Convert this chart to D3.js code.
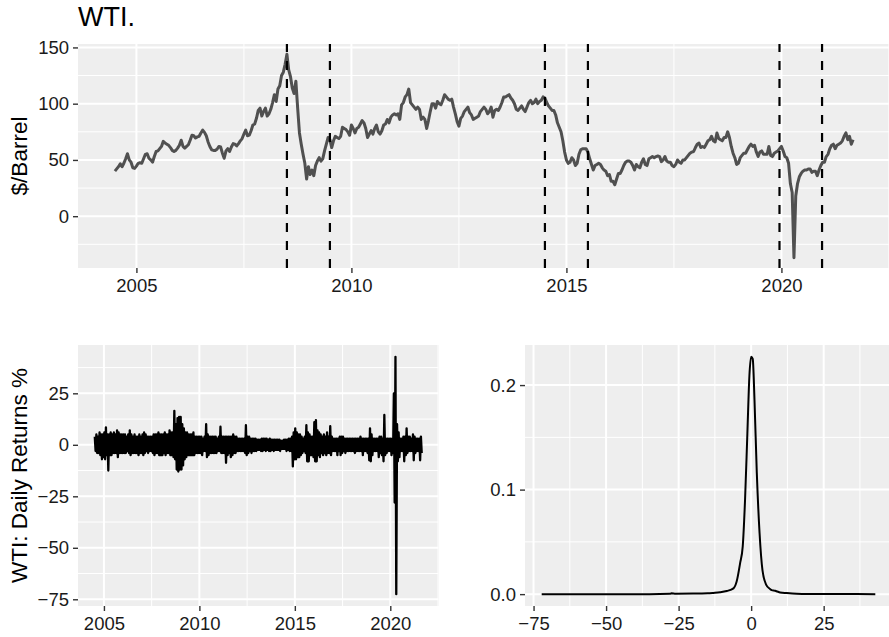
<!DOCTYPE html>
<html><head><meta charset="utf-8">
<script src="https://cdn.jsdelivr.net/npm/d3@7"></script>
<style>
body{margin:0;background:#fff}
svg{display:block}
text{font-family:"Liberation Sans",Arial,Helvetica,sans-serif}
</style>
</head><body>
<svg id="c" width="889" height="637"></svg>
<script>
// ---------------- DATA ----------------
// WTI spot price, $/barrel, semi-monthly readings (1st and 16th of each month)
const wti2004 = [40, 42, 44, 46.5, 44, 47, 51, 55.5, 50, 48, 43, 42.5]; // Jul-Dec
const wti2005 = [44.5, 47, 47.5, 47, 51, 55, 55.5, 51.5, 50, 48, 53, 57.5, 58, 60, 62, 66.5, 65, 64, 63, 61, 58.5, 57.5, 58.5, 60.5];
const wti2006 = [63, 67.5, 62, 60.5, 62, 63.5, 67.5, 72, 71.5, 69.5, 70.5, 71, 74, 76.5, 74.5, 71.5, 66, 62, 59, 58.5, 58.5, 59.5, 62, 61.5];
const wti2007 = [56, 51.5, 58, 60, 57.5, 61.5, 64.5, 64, 62.5, 64.5, 67, 69, 73, 76.5, 71.5, 72, 76, 81, 82, 87, 94, 96, 89, 93];
const wti2008 = [96, 89, 91, 95, 101, 108, 102, 113, 116, 125, 128, 135, 144, 130, 124, 114, 109, 120, 96, 74, 64, 55, 47, 33];
const wti2009 = [44, 37, 41, 36, 45, 49, 52, 49, 51, 58, 64, 70, 68, 61, 67, 71, 70, 69, 71, 79, 78, 77, 75, 72];
const wti2010 = [81, 78, 74, 78, 79, 82, 85, 83, 78, 70, 73, 76, 73, 78, 81, 75, 73, 76, 81, 82, 86, 83, 88, 90];
const wti2011 = [91, 90, 91, 86, 99, 101, 106, 108, 113, 101, 99, 97, 95, 97, 95, 86, 88, 86, 78, 85, 93, 100, 100, 96];
const wti2012 = [102, 100, 99, 103, 108, 106, 104, 103, 104, 97, 91, 84, 80, 87, 89, 93, 95, 97, 92, 90, 86, 87, 88, 89];
const wti2013 = [93, 95, 97, 95, 91, 93, 97, 88, 94, 95, 94, 97, 101, 106, 106, 107, 108, 105, 103, 100, 95, 94, 96, 98];
const wti2014 = [95, 93, 97, 101, 103, 100, 101, 104, 100, 102, 103, 106, 105, 101, 98, 96, 94, 94, 90, 83, 79, 75, 67, 57];
const wti2015 = [50, 47, 48, 52, 50, 45, 47, 55, 59, 60, 60, 60, 57, 51, 46, 41, 45, 46, 47, 46, 43, 41, 40, 36];
const wti2016 = [37, 31, 31, 28, 33, 38, 38, 41, 45, 48, 49, 49, 48, 45, 41, 46, 44, 43, 48, 51, 46, 45, 51, 52];
const wti2017 = [53, 52, 53, 53.5, 53, 48.5, 50, 53, 49, 48, 48, 45, 44, 46, 50, 48, 47, 50, 50, 52, 54, 56, 57, 57.5];
const wti2018 = [61, 64, 65, 61, 62, 61, 64, 67, 68, 71, 67, 66, 74, 69, 68, 67, 70, 70, 75, 70, 62, 56, 52, 46];
const wti2019 = [47, 52, 54, 56, 56, 59, 62, 64, 62, 63, 57, 53, 57, 58, 55, 55, 55, 62, 54, 53, 56, 57, 58, 60];
const wti2020 = [62, 58, 53, 52, 47, 29, 21, -37, 18, 29, 35, 38, 40, 41, 41, 42, 42, 39, 40, 40, 36, 41, 45, 48];
const wti2021 = [48, 53, 55, 60, 63, 64, 60, 63, 64, 65, 67, 71, 74, 68, 71, 64, 68]; // Jan-Sep 1
const priceYears = [2004, 2005, 2006, 2007, 2008, 2009, 2010, 2011, 2012, 2013, 2014, 2015, 2016, 2017, 2018, 2019, 2020, 2021];
const priceSeries = [wti2004, wti2005, wti2006, wti2007, wti2008, wti2009, wti2010, wti2011, wti2012, wti2013, wti2014, wti2015, wti2016, wti2017, wti2018, wti2019, wti2020, wti2021];

// Vertical event markers (decimal years)
const eventDates = [2008.5, 2009.5, 2014.5, 2015.5, 2019.955, 2020.945];

// Daily returns %: monthly envelope (highest / lowest daily return), from Jul 2004
const retStartYear = 2004.5;
const retHigh = [
  4, 5, 4, 6, 5, 5,                                  // 2004 H2
  6, 8.5, 5, 5, 6, 5, 6, 5, 7, 6, 5, 5,              // 2005
  5, 5, 4, 5, 7, 5, 4, 5, 4, 4, 5, 4,                // 2006
  5, 6, 5, 4, 4, 4, 4, 5, 5, 5, 6, 5,                // 2007
  5, 5, 6, 5, 5, 7, 6, 6, 16.5, 10, 13, 13.5,        // 2008
  13.5, 10, 8, 6, 6, 5, 5, 5, 6, 4, 4, 4,            // 2009
  4, 4, 3, 4, 10, 5, 4, 4, 4, 4, 4, 3,               // 2010
  4, 8.8, 4, 4, 4, 4, 4, 4, 4, 5, 4, 4,              // 2011
  3, 3, 3, 3, 3, 9.5, 4, 4, 3, 3, 3, 3,              // 2012
  2.5, 2.5, 2.5, 3, 3, 3, 3, 2.5, 3, 2.5, 2.5, 2.5,  // 2013
  2.5, 2.5, 2.5, 2, 2, 2.5, 2.5, 2.5, 3, 3, 4, 6,    // 2014
  8, 6, 5, 5, 4, 3, 4, 9.5, 6, 5, 4, 4,              // 2015
  11, 12, 7, 6, 5, 4, 5, 4, 6, 4, 9, 4,              // 2016
  3, 3, 3, 3, 4, 4, 4, 3, 3, 3, 3, 3,                // 2017
  3, 3, 3, 3, 3, 4, 3, 3, 3, 3, 3, 8,                // 2018
  5, 3, 3, 3, 3, 4, 4, 3, 14.5, 3, 3, 3,             // 2019
  3, 3, 25, 42.7, 10, 6, 3, 3, 4, 4, 8, 4,           // 2020
  4, 3, 5, 4, 3, 3, 3, 4                             // 2021
];
const retLow = [
  -3, -4, -4, -5, -7, -6,
  -7, -5, -12.5, -5, -5, -4, -4, -4, -6, -4, -4, -4,
  -4, -4, -3, -4, -5, -4, -4, -4, -4, -5, -4, -4,
  -5, -4, -3, -4, -3, -3, -4, -5, -4, -4, -5, -5,
  -5, -4, -5, -4, -4, -5, -5, -6, -7, -12, -13, -12,
  -12, -10, -7, -6, -5, -5, -5, -5, -5, -4, -4, -4,
  -4, -5, -3, -3, -6, -5, -4, -4, -4, -4, -4, -3,
  -3, -4, -4, -4, -8.7, -5, -4, -6, -5, -4, -4, -3,
  -3, -3, -3, -3, -4, -5, -4, -3, -4, -3, -3, -3,
  -2.5, -2.5, -3, -3, -2.5, -3, -2.5, -3, -3, -2.5, -3, -2.5,
  -2.5, -2.5, -3, -2, -2, -2, -3, -2.5, -3, -3, -10.5, -7,
  -7, -6, -6, -5, -4, -3, -4, -8, -8, -5, -5, -6,
  -8, -8, -5, -6, -4, -5, -4, -5, -4, -4, -5, -3,
  -3, -3, -5, -3, -5, -4, -3, -4, -3, -3, -3, -3,
  -3, -4, -3, -3, -3, -3, -5, -3, -3, -4, -7.5, -8,
  -5, -3, -3, -3, -6, -4, -5, -8, -5, -4, -3, -3,
  -5, -4, -28, -72.5, -8, -6, -3, -3, -8, -5, -4, -3,
  -3, -3, -7.5, -4, -3, -3, -7.5, -4
];

// Kernel density of daily returns
const densX = [-72.2, -60, -45, -35, -28, -27.5, -26, -20, -15, -13, -10.7, -8.4, -6.1, -5, -3.8, -2.9, -2.1, -1.3, -0.6, 0, 0.55, 1.15, 1.95, 2.9, 3.9, 5.2, 6.5, 7.1, 8.3, 9.0, 10, 12.3, 15.7, 20, 30, 42.8];
const densY = [0, 0, 0, 0, 0.0003, 0.0008, 0.0004, 0.0005, 0.0008, 0.0012, 0.0018, 0.003, 0.0055, 0.012, 0.0297, 0.0457, 0.0904, 0.154, 0.209, 0.227, 0.225, 0.186, 0.116, 0.0585, 0.023, 0.0089, 0.005, 0.0038, 0.0032, 0.0025, 0.0016, 0.001, 0.0004, 0.0002, 0.0001, 0];

// Tick labels
const yearTicks = [2005, 2010, 2015, 2020];
const yearMinor = [2007.5, 2012.5, 2017.5, 2022.5];
const priceTicks = [0, 50, 100, 150];
const priceMinor = [-25, 25, 75, 125];
const retTicks = [-75, -50, -25, 0, 25];
const retMinor = [-62.5, -37.5, -12.5, 12.5, 37.5];
const densXTicks = [-75, -50, -25, 0, 25];
const densXMinor = [-62.5, -37.5, -12.5, 12.5, 37.5];
const densYTicks = [0, 0.1, 0.2];
const densYMinor = [0.05, 0.15];

// ---------------- BUILD ----------------
const pricePts = [];
priceYears.forEach((yr, k) => {
  const arr = priceSeries[k];
  const off = (k === 0) ? 24 - arr.length : 0;
  arr.forEach((v, i) => pricePts.push([yr + (off + i) / 24, v]));
});
const retPts = [];
retHigh.forEach((h, m) => {
  retPts.push([retStartYear + (m + 0.25) / 12, h]);
  retPts.push([retStartYear + (m + 0.75) / 12, retLow[m]]);
});
const densPts = densX.map((d, i) => [d, densY[i]]);

const svg = d3.select('#c');
const BG = '#EEEEEE';
const TXT = '#1a1a1a';
const minus = d => (d < 0 ? '\u2212' + Math.abs(d) : String(d));
function expand(ext) { const r = ext[1] - ext[0]; return [ext[0] - 0.05 * r, ext[1] + 0.05 * r]; }

let clipId = 0;
function panel(c) {
  const x = d3.scaleLinear().domain(c.xDomain).range([c.left, c.right]);
  const y = d3.scaleLinear().domain(c.yDomain).range([c.bottom, c.top]);
  const g = svg.append('g');
  const id = 'clip' + (clipId++);
  svg.append('clipPath').attr('id', id).append('rect')
    .attr('x', c.left).attr('y', c.top).attr('width', c.right - c.left).attr('height', c.bottom - c.top);
  g.append('rect').attr('x', c.left).attr('y', c.top)
    .attr('width', c.right - c.left).attr('height', c.bottom - c.top).attr('fill', BG);
  const grid = g.append('g').attr('clip-path', `url(#${id})`);
  c.yMinor.forEach(v => grid.append('line').attr('x1', c.left).attr('x2', c.right)
    .attr('y1', y(v)).attr('y2', y(v)).attr('stroke', '#fff').attr('stroke-width', 1));
  c.xMinor.forEach(v => grid.append('line').attr('y1', c.top).attr('y2', c.bottom)
    .attr('x1', x(v)).attr('x2', x(v)).attr('stroke', '#fff').attr('stroke-width', 1));
  c.yMajor.forEach(v => grid.append('line').attr('x1', c.left).attr('x2', c.right)
    .attr('y1', y(v)).attr('y2', y(v)).attr('stroke', '#fff').attr('stroke-width', 2));
  c.xMajor.forEach(v => grid.append('line').attr('y1', c.top).attr('y2', c.bottom)
    .attr('x1', x(v)).attr('x2', x(v)).attr('stroke', '#fff').attr('stroke-width', 2));

  const ax = svg.append('g').attr('transform', `translate(${c.left},0)`)
    .call(d3.axisLeft(y).tickValues(c.yMajor).tickSize(5).tickPadding(4).tickFormat(c.yFmt));
  const bx = svg.append('g').attr('transform', `translate(0,${c.bottom})`)
    .call(d3.axisBottom(x).tickValues(c.xMajor).tickSize(5).tickPadding(5.5).tickFormat(c.xFmt));
  [ax, bx].forEach(a => {
    a.select('.domain').remove();
    a.selectAll('.tick line').attr('stroke', '#333').attr('stroke-width', 1.4);
    a.selectAll('.tick text').attr('fill', TXT).style('font-size', '18.5px')
      .style('font-family', '"Liberation Sans",Arial,sans-serif');
  });
  const data = svg.append('g').attr('clip-path', `url(#${id})`);
  return { x, y, g: data, c };
}

// ---- Top: price ----
const pTop = panel({
  left: 78, right: 890, top: 44, bottom: 268,
  xDomain: expand(d3.extent(pricePts, d => d[0])),
  yDomain: expand(d3.extent(pricePts, d => d[1])),
  xMajor: yearTicks, xMinor: yearMinor, yMajor: priceTicks, yMinor: priceMinor,
  xFmt: d => String(d), yFmt: minus
});
pTop.g.append('path').datum(pricePts)
  .attr('d', d3.line().x(d => pTop.x(d[0])).y(d => pTop.y(d[1])))
  .attr('fill', 'none').attr('stroke', '#505050').attr('stroke-width', 3)
  .attr('stroke-linejoin', 'round');
eventDates.forEach(e => {
  pTop.g.append('line').attr('x1', pTop.x(e)).attr('x2', pTop.x(e))
    .attr('y1', 268).attr('y2', 44)
    .attr('stroke', '#000').attr('stroke-width', 2.2).attr('stroke-dasharray', '9,9');
});

// ---- Bottom left: returns ----
const pBL = panel({
  left: 78, right: 438.5, top: 345, bottom: 606,
  xDomain: expand(d3.extent(pricePts, d => d[0])),
  yDomain: expand(d3.extent(retPts, d => d[1])),
  xMajor: yearTicks, xMinor: yearMinor, yMajor: retTicks, yMinor: retMinor,
  xFmt: d => String(d), yFmt: minus
});
pBL.g.append('path').datum(retPts)
  .attr('d', d3.line().x(d => pBL.x(d[0])).y(d => pBL.y(d[1])))
  .attr('fill', 'none').attr('stroke', '#000').attr('stroke-width', 2.3)
  .attr('stroke-linejoin', 'round');

// ---- Bottom right: density ----
const pBR = panel({
  left: 525, right: 892, top: 345, bottom: 606,
  xDomain: expand(d3.extent(densPts, d => d[0])),
  yDomain: expand(d3.extent(densPts, d => d[1])),
  xMajor: densXTicks, xMinor: densXMinor, yMajor: densYTicks, yMinor: densYMinor,
  xFmt: minus, yFmt: d3.format('.1f')
});
pBR.g.append('path').datum(densPts)
  .attr('d', d3.line().curve(d3.curveMonotoneX).x(d => pBR.x(d[0])).y(d => pBR.y(d[1])))
  .attr('fill', 'none').attr('stroke', '#000').attr('stroke-width', 2)
  .attr('stroke-linejoin', 'round');

// ---- Titles ----
svg.append('text').attr('x', 78).attr('y', 25.5).attr('fill', '#000')
  .style('font-size', '27px').text('WTI.');
svg.append('text').attr('transform', 'translate(26.5,156) rotate(-90)')
  .attr('text-anchor', 'middle').attr('fill', '#000').style('font-size', '22.5px').text('$/Barrel');
svg.append('text').attr('transform', 'translate(26.5,475.5) rotate(-90)')
  .attr('text-anchor', 'middle').attr('fill', '#000').style('font-size', '22.5px').text('WTI: Daily Returns %');
</script>
</body></html>
